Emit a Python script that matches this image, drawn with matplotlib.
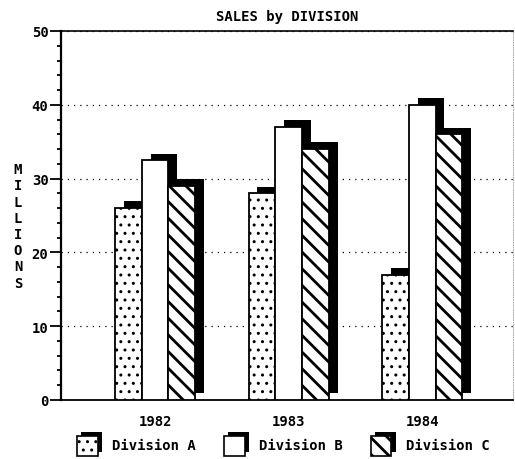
import matplotlib
matplotlib.use("Agg")
import matplotlib.pyplot as plt
from matplotlib.patches import Rectangle
from matplotlib.legend_handler import HandlerBase
from matplotlib.ticker import MultipleLocator
import numpy as np

# Sales in millions per division and year
years = ["1982", "1983", "1984"]
divisions = ["Division A", "Division B", "Division C"]
div_a = [26, 28, 17]
div_b = [32.5, 37, 40]
div_c = [29, 34, 36]
y_ticks = [0, 10, 20, 30, 40, 50]

plt.rcParams['font.family'] = ['DejaVu Sans Mono', 'DejaVu Sans']
plt.rcParams['font.weight'] = 'bold'
plt.rcParams['hatch.color'] = 'black'

FS = 10

fig = plt.figure(figsize=(5.15, 4.6), dpi=100)
ax = fig.add_axes([61 / 515, 59 / 460, 452 / 515, 369 / 460])

x = np.arange(1, len(years) + 1)
width = 0.2
shift_x, shift_y = 0.067, 0.9   # drop-shadow offset (data units)

series = [div_a, div_b, div_c]
offsets = [-width, 0.0, width]
styles = [dict(hatch='..', hlw=1.0),
          dict(hatch=None, hlw=1.0),
          dict(hatch='\\\\', hlw=2.0)]


def set_hlw(patch, lw):
    if hasattr(patch, 'set_hatch_linewidth'):
        patch.set_hatch_linewidth(lw)


# shadows first, so every front bar sits on top of them
for vals, off in zip(series, offsets):
    ax.bar(x + off + shift_x, vals, width, bottom=shift_y, color='black',
           linewidth=0, zorder=2)

for vals, off, st in zip(series, offsets, styles):
    with plt.rc_context({'hatch.linewidth': st['hlw']}):
        bars = ax.bar(x + off, vals, width, facecolor='white', edgecolor='black',
                      linewidth=1.3, hatch=st['hatch'], zorder=3)
        for b in bars:
            set_hlw(b, st['hlw'])

ax.set_xlim(0.296, 3.68)
ax.set_ylim(0, 50)
ax.set_xticks(x)
ax.set_xticklabels(years, fontsize=FS, fontweight='bold')
ax.tick_params(axis='x', length=0, pad=10)

ax.set_yticks(y_ticks)
ax.set_yticklabels([str(t) for t in y_ticks], fontsize=FS, fontweight='bold')
ax.yaxis.set_minor_locator(MultipleLocator(2))
ax.tick_params(axis='y', which='major', direction='out', length=8, width=1.3, pad=1)
ax.tick_params(axis='y', which='minor', direction='out', length=3, width=1.3)

ax.yaxis.grid(True, which='major', linestyle=(0, (1, 4)), color='black', linewidth=0.9)
ax.set_axisbelow(True)

ax.spines['left'].set_linewidth(1.6)
ax.spines['bottom'].set_linewidth(1.3)
ax.spines['top'].set_linewidth(1.2)
ax.spines['right'].set_linewidth(0.6)
ax.spines['right'].set_linestyle((0, (1, 2)))
ax.spines['right'].set_color('#999999')

fig.text(287 / 515, 1 - 17 / 460, "SALES by DIVISION", ha='center', va='center',
         fontsize=FS, fontweight='bold')
fig.text(18 / 515, 1 - 227 / 460, "\n".join("MILLIONS"), ha='center', va='center',
         fontsize=FS, fontweight='bold', linespacing=1.2)


class ShadowHandler(HandlerBase):
    def __init__(self, hatch_lws, **kw):
        super().__init__(**kw)
        self.hatch_lws = hatch_lws

    def create_artists(self, legend, orig_handle, xdescent, ydescent, width,
                       height, fontsize, trans):
        s = 3.0
        lw = self.hatch_lws.get(id(orig_handle), 1.0)
        shadow = Rectangle((-xdescent + s, -ydescent + s), width - s, height - s,
                           facecolor='black', edgecolor='none', transform=trans)
        with plt.rc_context({'hatch.linewidth': lw}):
            front = Rectangle((-xdescent, -ydescent), width - s, height - s,
                              facecolor='white', edgecolor='black', linewidth=1.2,
                              hatch=orig_handle.get_hatch(), transform=trans)
        set_hlw(front, lw)
        return [shadow, front]


handles = []
hatch_lws = {}
for st in styles:
    h = Rectangle((0, 0), 1, 1, facecolor='white', edgecolor='black', hatch=st['hatch'])
    hatch_lws[id(h)] = st['hlw']
    handles.append(h)

fig.legend(handles, divisions, handler_map={Rectangle: ShadowHandler(hatch_lws)},
           loc='center', bbox_to_anchor=(0.55, 0.032), ncol=3, frameon=False,
           prop={'size': FS, 'weight': 'bold'}, handlelength=1.8, handleheight=2.3,
           handletextpad=0.75, columnspacing=2.0, borderpad=0, borderaxespad=0)

fig.savefig("out.png", dpi=100)
